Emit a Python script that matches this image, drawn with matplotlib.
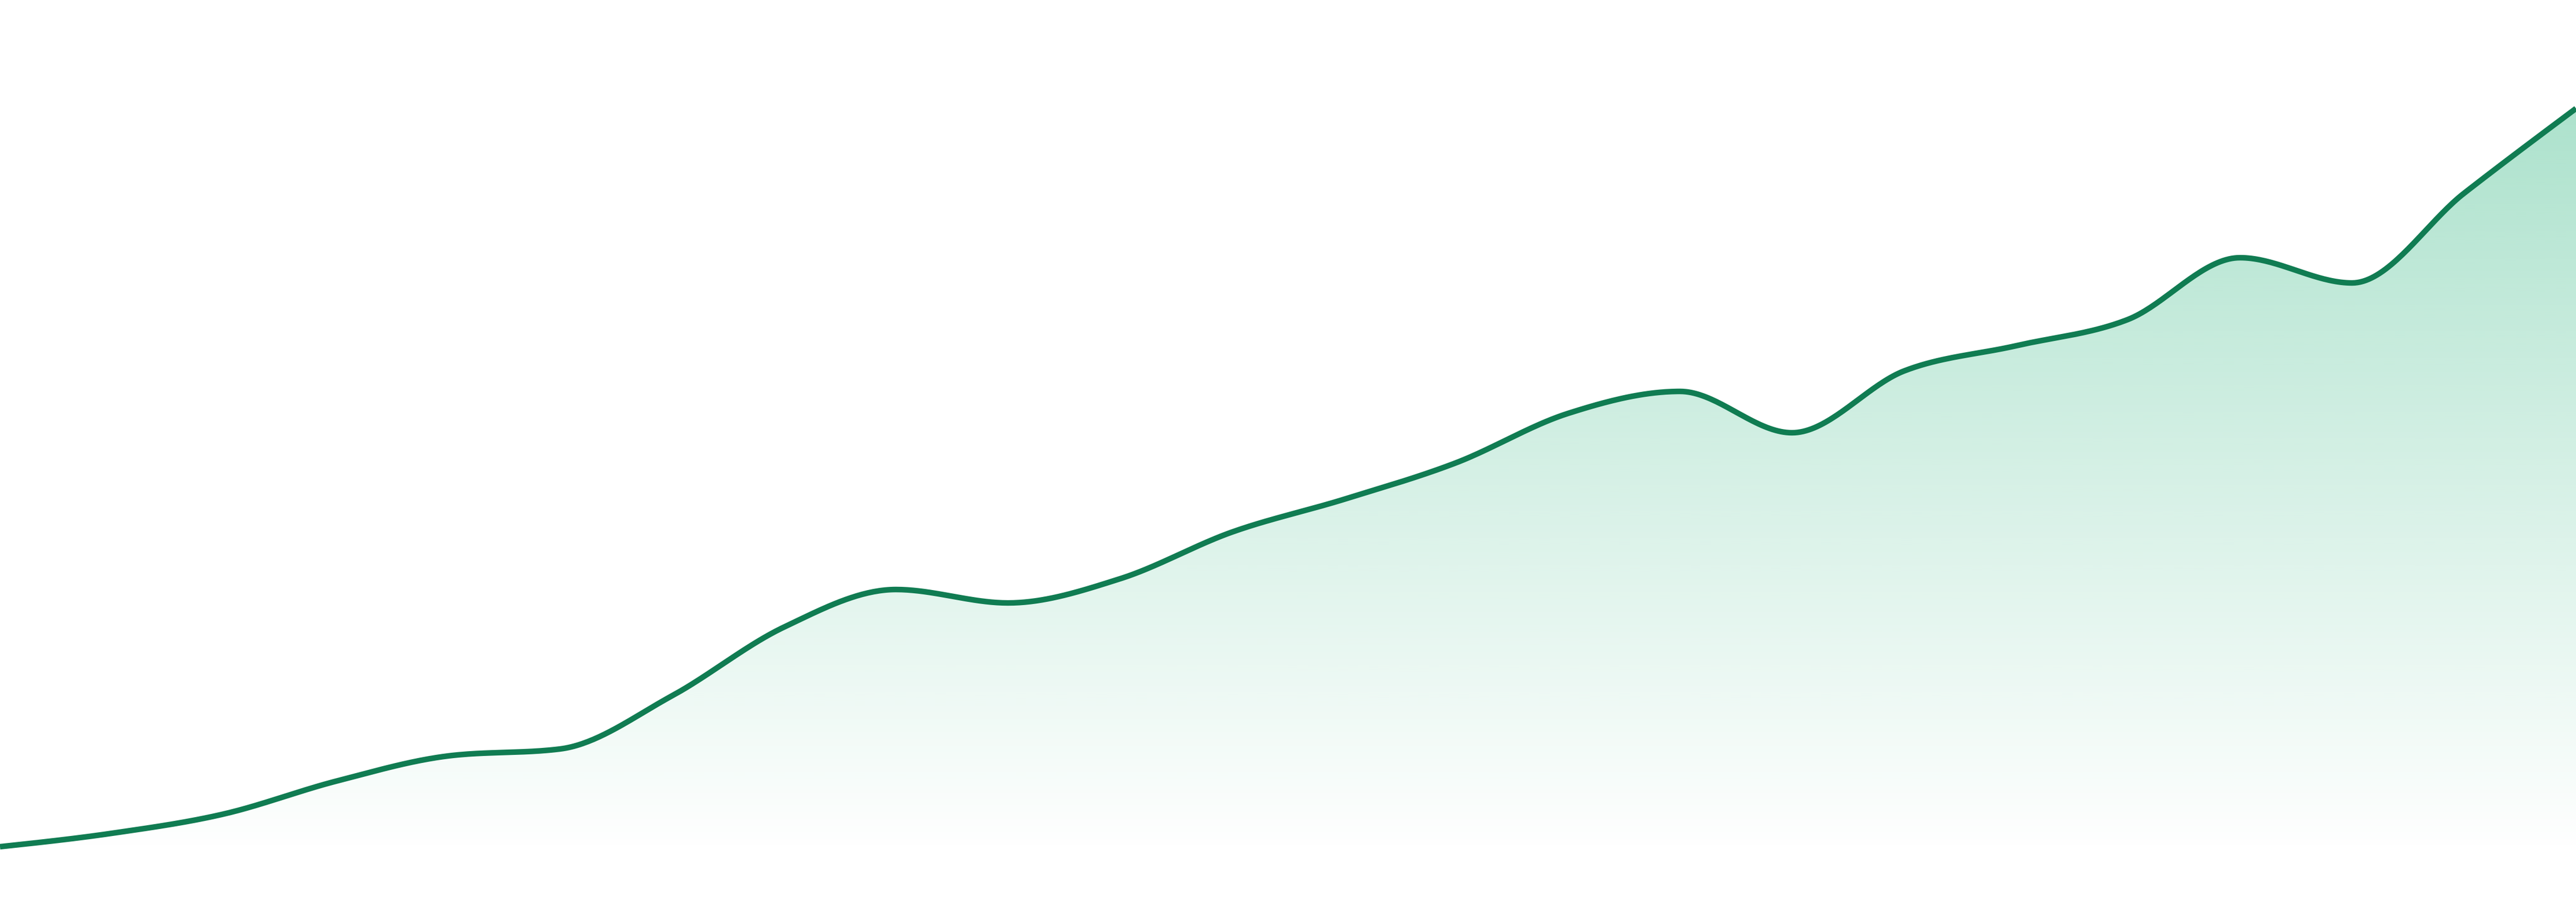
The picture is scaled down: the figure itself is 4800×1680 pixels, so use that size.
import numpy as np
import matplotlib
matplotlib.use("Agg")
import matplotlib.pyplot as plt
from matplotlib.patches import Polygon

# values (24 evenly spaced samples)
values = [10.3, 12.8, 16.4, 22.5, 27.2, 28.5, 38.4, 51.2, 58.2, 55.7, 60.2, 68.9,
          75.0, 81.8, 91.0, 95.1, 87.4, 98.9, 103.6, 108.5, 120.0, 115.3, 132.0, 147.8]
positions = list(range(len(values)))

LINE_COLOR = "#107c52"
FILL_RGB = (67 / 255, 189 / 255, 140 / 255)
Y_MAX = 168
FADE_TOP = 0.5    # fill opacity at the top of the chart
FADE_ZERO = 9.1   # value where the fill has faded out


def monotone_curve(x, y, steps=40):
    """Monotone cubic (like d3.curveMonotoneX) through the points."""
    x = np.asarray(x, float)
    y = np.asarray(y, float)
    h = np.diff(x)
    s = np.diff(y) / h
    n = len(x)
    t = np.zeros(n)
    for i in range(1, n - 1):
        p = (s[i - 1] * h[i] + s[i] * h[i - 1]) / (h[i - 1] + h[i])
        t[i] = (np.sign(s[i - 1]) + np.sign(s[i])) * min(abs(s[i - 1]), abs(s[i]), 0.5 * abs(p))
    t[0] = (3 * s[0] - t[1]) / 2
    t[-1] = (3 * s[-1] - t[-2]) / 2
    xs, ys = [], []
    for i in range(n - 1):
        u = np.linspace(0, 1, steps, endpoint=(i == n - 2))
        h00 = 2 * u**3 - 3 * u**2 + 1
        h10 = u**3 - 2 * u**2 + u
        h01 = -2 * u**3 + 3 * u**2
        h11 = u**3 - u**2
        xs.append(x[i] + u * h[i])
        ys.append(h00 * y[i] + h10 * h[i] * t[i] + h01 * y[i + 1] + h11 * h[i] * t[i + 1])
    return np.concatenate(xs), np.concatenate(ys)


cx, cy = monotone_curve(positions, values)

fig = plt.figure(figsize=(16, 5.6), dpi=300)
ax = fig.add_axes([0, 0, 1, 1])
ax.set_xlim(positions[0], positions[-1])
ax.set_ylim(0, Y_MAX)
ax.axis("off")

# vertical gradient under the line: strong at top, fading out near the bottom
levels = np.linspace(Y_MAX, 0, 512)   # row 0 = top
grad = np.zeros((len(levels), 1, 4))
grad[..., 0], grad[..., 1], grad[..., 2] = FILL_RGB
grad[:, 0, 3] = np.clip(FADE_TOP * (levels - FADE_ZERO) / (Y_MAX - FADE_ZERO), 0, 1)
img = ax.imshow(grad, extent=[positions[0], positions[-1], 0, Y_MAX], aspect="auto",
                origin="upper", interpolation="bilinear", zorder=1)
poly = Polygon(np.column_stack([np.r_[cx, cx[-1], cx[0]], np.r_[cy, 0, 0]]),
               closed=True, facecolor="none", edgecolor="none")
ax.add_patch(poly)
img.set_clip_path(poly)

ax.plot(cx, cy, color=LINE_COLOR, linewidth=2.5, solid_capstyle="butt", zorder=2)

fig.savefig("out.png", dpi=300, facecolor="white")
